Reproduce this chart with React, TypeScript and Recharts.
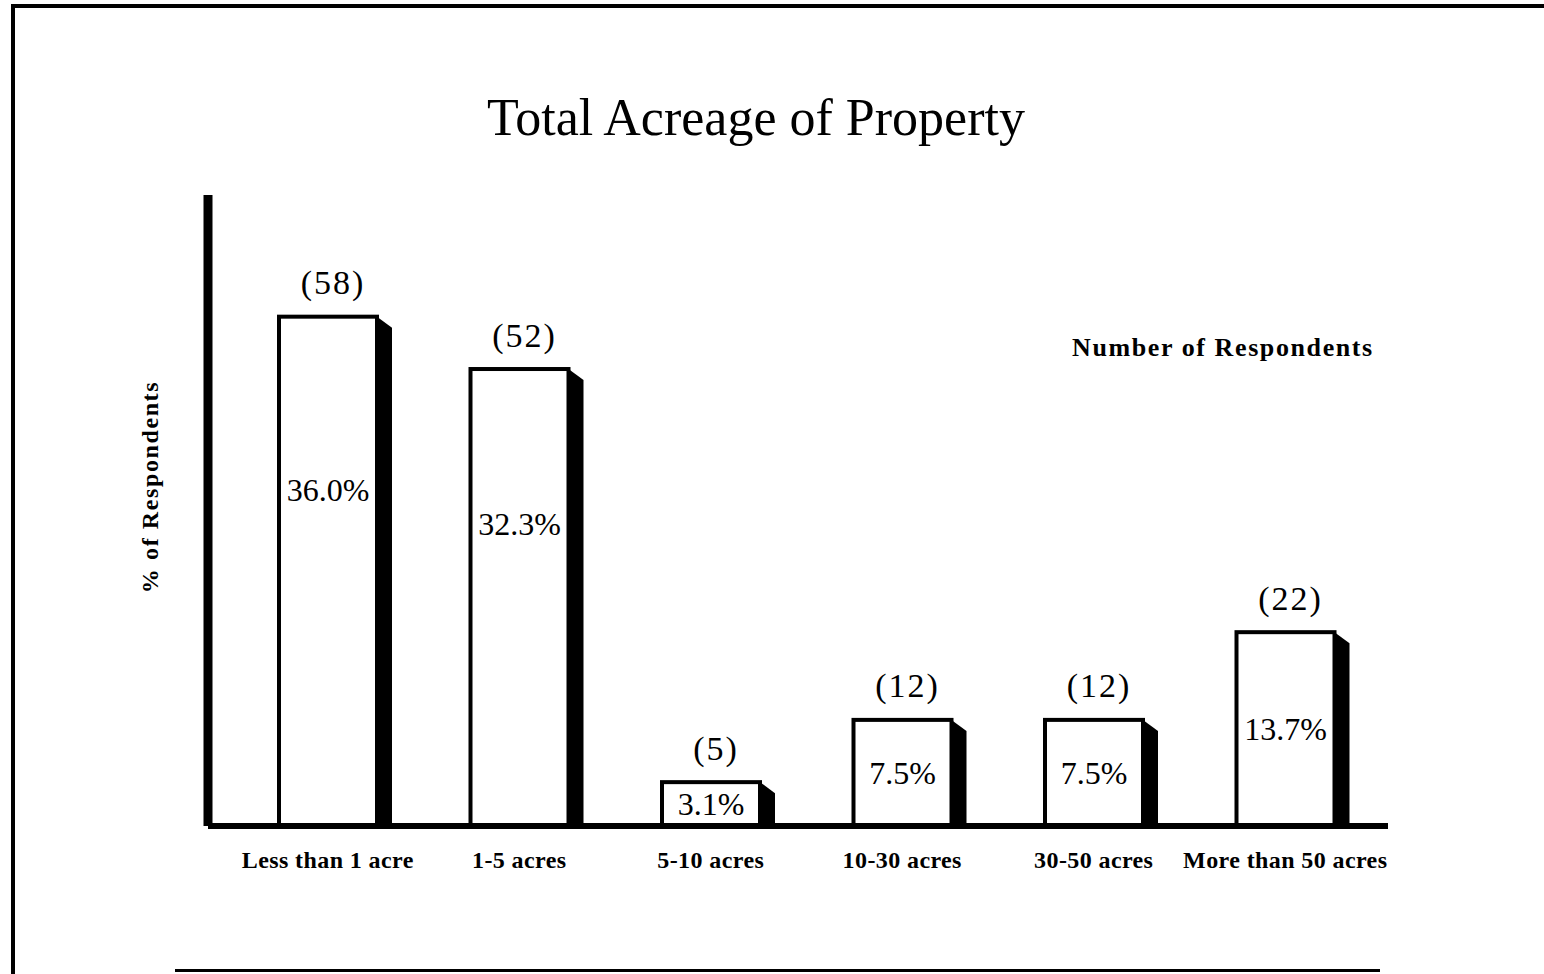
import { BarChart, Bar, XAxis, YAxis, LabelList } from "recharts"

const categories = [
  "Less than 1 acre",
  "1-5 acres",
  "5-10 acres",
  "10-30 acres",
  "30-50 acres",
  "More than 50 acres"
]

const percents = [36.0, 32.3, 3.1, 7.5, 7.5, 13.7]

const counts = [58, 52, 5, 12, 12, 22]

const data = categories.map((name, i) => ({
  name,
  percent: percents[i],
  count: counts[i]
}))

const SERIF = "'Liberation Serif', 'DejaVu Serif', serif"
const SIDE = 15

function Bar3D(props: any) {
  const { x, y, width, height } = props
  if (!height) return null
  const side = `${x + width},${y} ${x + width + SIDE},${y + 11} ${x + width + SIDE},${y + height} ${x + width},${y + height}`
  return (
    <g>
      <polygon points={side} fill="#000" />
      <rect
        x={x}
        y={y}
        width={width}
        height={height}
        fill="#fff"
        stroke="#000"
        strokeWidth={4}
      />
    </g>
  )
}

function PercentLabel(props: any) {
  const { x, y, width, height, value } = props
  const dy = height > 300 ? height * 0.34 : height / 2
  return (
    <text
      x={x + width / 2}
      y={y + dy}
      textAnchor="middle"
      dominantBaseline="central"
      fontFamily={SERIF}
      fontSize={32}
      fill="#000"
    >
      {Number(value).toFixed(1)}%
    </text>
  )
}

function CountLabel(props: any) {
  const { x, y, width, value } = props
  return (
    <text
      x={x + width / 2 + 5}
      y={y - 34}
      textAnchor="middle"
      dominantBaseline="central"
      fontFamily={SERIF}
      fontSize={34}
      letterSpacing={2}
      fill="#000"
    >
      ({value})
    </text>
  )
}

export default function App() {
  return (
    <div
      style={{
        position: "fixed",
        left: 0,
        top: 0,
        width: 1544,
        height: 974,
        background: "#fff",
        overflow: "hidden"
      }}
    >
      <div
        style={{
          position: "absolute",
          left: 11,
          top: 4,
          width: 1540,
          height: 980,
          borderTop: "4px solid #000",
          borderLeft: "4px solid #000"
        }}
      />

      <div
        style={{
          position: "absolute",
          left: 0,
          width: 1512,
          top: 86,
          textAlign: "center",
          fontFamily: SERIF,
          fontSize: 52,
          lineHeight: "64px"
        }}
      >
        Total Acreage of Property
      </div>

      <div
        style={{
          position: "absolute",
          left: 1072,
          top: 333,
          fontFamily: SERIF,
          fontWeight: "bold",
          fontSize: 26,
          letterSpacing: 1.6,
          lineHeight: "30px",
          whiteSpace: "nowrap"
        }}
      >
        Number of Respondents
      </div>

      <div
        style={{
          position: "absolute",
          left: 150,
          top: 487,
          transform: "translate(-50%, -50%) rotate(-90deg)",
          whiteSpace: "nowrap",
          fontFamily: SERIF,
          fontWeight: "bold",
          fontSize: 24,
          letterSpacing: 1.6
        }}
      >
        % of Respondents
      </div>

      <div
        style={{
          position: "absolute",
          left: 175,
          top: 969,
          width: 1205,
          borderTop: "3px solid #000"
        }}
      />

      <div style={{ position: "absolute", left: 0, top: 0 }}>
        <BarChart
          width={1544}
          height={974}
          data={data}
          margin={{ top: 195, right: 156, bottom: 110, left: 207 }}
        >
          <XAxis
            dataKey="name"
            padding={{ left: 24, right: 7 }}
            axisLine={{ stroke: "#000", strokeWidth: 6 }}
            tickLine={false}
            tickSize={0}
            tickMargin={25}
            height={38}
            interval={0}
            tick={{
              fontFamily: SERIF,
              fontWeight: "bold",
              fontSize: 24,
              letterSpacing: 0.4,
              fill: "#000"
            }}
          />
          <YAxis
            width={1}
            domain={[0, 44.6]}
            tick={false}
            tickLine={false}
            axisLine={{ stroke: "#000", strokeWidth: 9 }}
          />
          <Bar
            dataKey="percent"
            barSize={98}
            shape={<Bar3D />}
            isAnimationActive={false}
          >
            <LabelList dataKey="percent" content={<PercentLabel />} />
            <LabelList dataKey="count" content={<CountLabel />} />
          </Bar>
        </BarChart>
      </div>
    </div>
  )
}
